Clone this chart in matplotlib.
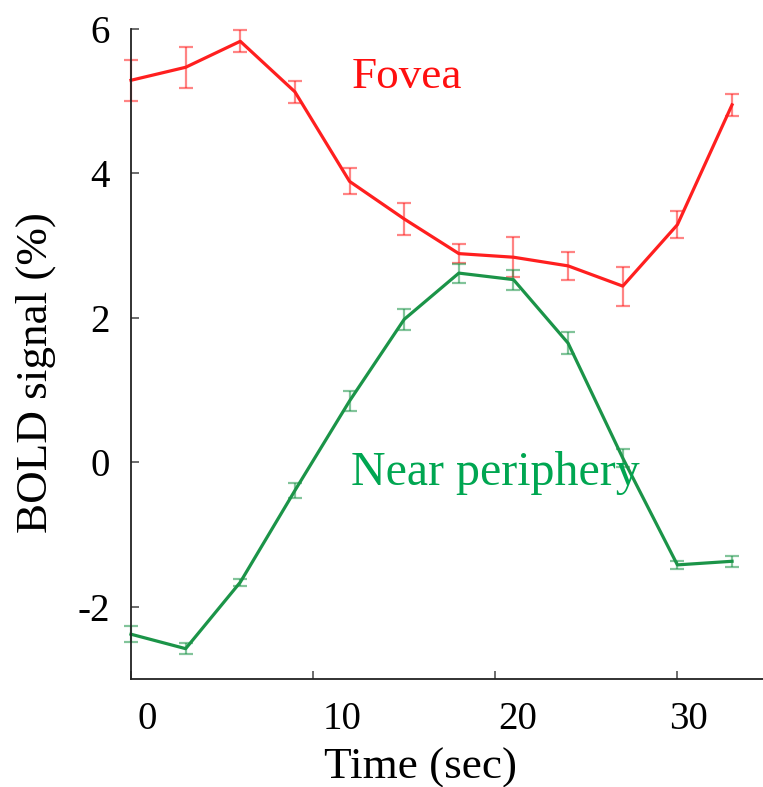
import numpy as np
import matplotlib.pyplot as plt
from matplotlib.transforms import ScaledTranslation

# time points (sec)
t = np.array([0, 3, 6, 9, 12, 15, 18, 21, 24, 27, 30, 33])

# fovea BOLD signal (%) and error
fovea = np.array([5.29, 5.47, 5.83, 5.13, 3.89, 3.37, 2.89, 2.84, 2.72, 2.44, 3.29, 4.95])
fovea_err = np.array([0.28, 0.28, 0.15, 0.15, 0.18, 0.22, 0.13, 0.28, 0.19, 0.27, 0.19, 0.15])

# near periphery BOLD signal (%) and error
near = np.array([-2.38, -2.58, -1.66, -0.39, 0.85, 1.98, 2.62, 2.53, 1.65, 0.06, -1.42, -1.37])
near_err = np.array([0.11, 0.08, 0.05, 0.10, 0.14, 0.15, 0.13, 0.14, 0.15, 0.12, 0.06, 0.08])

xticks = [0, 10, 20, 30]
yticks = [-2, 0, 2, 4, 6]

plt.rcParams['font.family'] = ['Liberation Serif', 'DejaVu Serif']

W, H = 763, 787
fig = plt.figure(figsize=(W / 100, H / 100), dpi=100)
ax = fig.add_axes([131 / W, 1 - 679 / H, 632 / W, (679 - 29) / H])

red = '#ff1f1f'
green = '#1b9448'

ax.errorbar(t, fovea, yerr=fovea_err, fmt='none', ecolor=red, alpha=0.55,
            elinewidth=1.6, capsize=5, capthick=1.6, clip_on=False)
ax.plot(t, fovea, color=red, lw=2.3, clip_on=False)
ax.errorbar(t, near, yerr=near_err, fmt='none', ecolor=green, alpha=0.55,
            elinewidth=1.6, capsize=5, capthick=1.6, clip_on=False)
ax.plot(t, near, color=green, lw=2.3, clip_on=False)

ax.set_xlim(0, 34.7)
ax.set_ylim(-3, 6)
ax.set_xticks(xticks)
ax.set_yticks(yticks)
ax.set_xticklabels([str(v) for v in xticks])
ax.set_yticklabels([str(v) for v in yticks])

for s in ['top', 'right']:
    ax.spines[s].set_visible(False)
for s in ['left', 'bottom']:
    ax.spines[s].set_color('#222222')
    ax.spines[s].set_linewidth(1.3)

ax.tick_params(axis='both', direction='in', length=6, width=1.1, color='#444444',
               labelsize=28)
ax.tick_params(axis='x', pad=16)
ax.tick_params(axis='y', pad=15)

# shift x tick labels to sit right of their ticks as in the original
shifts = [16, 29, 22, 11]
for lab, dx in zip(ax.get_xticklabels(), shifts):
    lab.set_transform(lab.get_transform() + ScaledTranslation(dx / 100, 0, fig.dpi_scale_trans))

ax.text(12.1, 5.18, 'Fovea', color='#ff1010', fontsize=32.5, va='baseline')
ax.text(12.1, -0.31, 'Near periphery', color='#00a651', fontsize=34.5, va='baseline')

fig.text(420 / W, 1 - 779 / H, 'Time (sec)', fontsize=32.5, ha='center', va='baseline')
fig.text(36 / W, 1 - 373 / H, 'BOLD signal (%)', fontsize=32.5, rotation=90,
         ha='center', va='center')

fig.savefig('out.png', dpi=100)
